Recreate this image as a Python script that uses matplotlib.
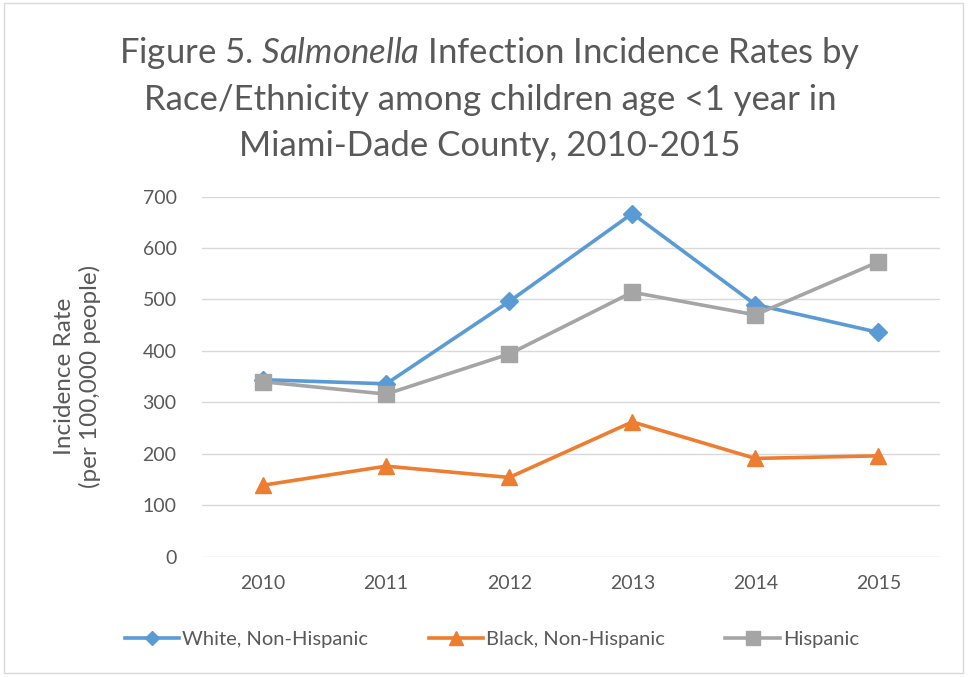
import numpy as np
import matplotlib.pyplot as plt
from matplotlib.patches import Rectangle

# data
years = ['2010', '2011', '2012', '2013', '2014', '2015']
white = [344, 336, 496, 667, 490, 436]
black = [139, 176, 154, 262, 191, 196]
hispanic = [340, 316, 394, 514, 470, 573]
series_names = ['White, Non-Hispanic', 'Black, Non-Hispanic', 'Hispanic']

plt.rcParams['font.family'] = ['Lato', 'DejaVu Sans']
plt.rcParams['mathtext.fontset'] = 'custom'
plt.rcParams['mathtext.rm'] = 'Lato'
plt.rcParams['mathtext.it'] = 'Lato:italic'
text_col = '#595959'

fig = plt.figure(figsize=(9.74, 6.77), dpi=100)
ax = fig.add_axes([0.207, 0.1777, 0.758, 0.532])

x = np.arange(len(years))
ax.plot(x, white, color='#5B9BD5', lw=2.6, marker='D', ms=9, label=series_names[0])
ax.plot(x, black, color='#ED7D31', lw=2.6, marker='^', ms=12, label=series_names[1])
ax.plot(x, hispanic, color='#A5A5A5', lw=2.6, marker='s', ms=12, label=series_names[2])

ax.set_xlim(-0.5, len(years) - 0.5)
ax.set_ylim(0, 700)
ax.set_yticks(range(0, 701, 100))
ax.set_xticks(x)
ax.set_xticklabels(years)
ax.grid(axis='y', color='#D9D9D9', lw=1)
ax.set_axisbelow(True)
for s in ax.spines.values():
    s.set_visible(False)
ax.tick_params(length=0, labelsize=14, colors=text_col, pad=13)
ax.tick_params(axis='y', pad=18)

ax.set_ylabel('Incidence Rate\n(per 100,000 people)', fontsize=17.5, color=text_col, labelpad=30)

fig.text(0.503, 0.922, 'Figure 5. $\\mathit{Salmonella}$ Infection Incidence Rates by',
         ha='center', va='center', fontsize=25, color=text_col)
fig.text(0.503, 0.852, 'Race/Ethnicity among children age <1 year in',
         ha='center', va='center', fontsize=25, color=text_col)
fig.text(0.503, 0.785, 'Miami-Dade County, 2010-2015',
         ha='center', va='center', fontsize=25, color=text_col)

leg = fig.legend(loc='center', bbox_to_anchor=(0.505, 0.055), ncol=3, frameon=False,
                 fontsize=14.5, handlelength=2.7, columnspacing=3.0, handletextpad=0.15,
                 markerscale=0.8)
for t in leg.get_texts():
    t.set_color(text_col)

fig.patches.append(Rectangle((0.004, 0.006), 0.985, 0.99, transform=fig.transFigure,
                             fill=False, edgecolor='#D9D9D9', lw=1))

fig.savefig('out.png', dpi=100)
